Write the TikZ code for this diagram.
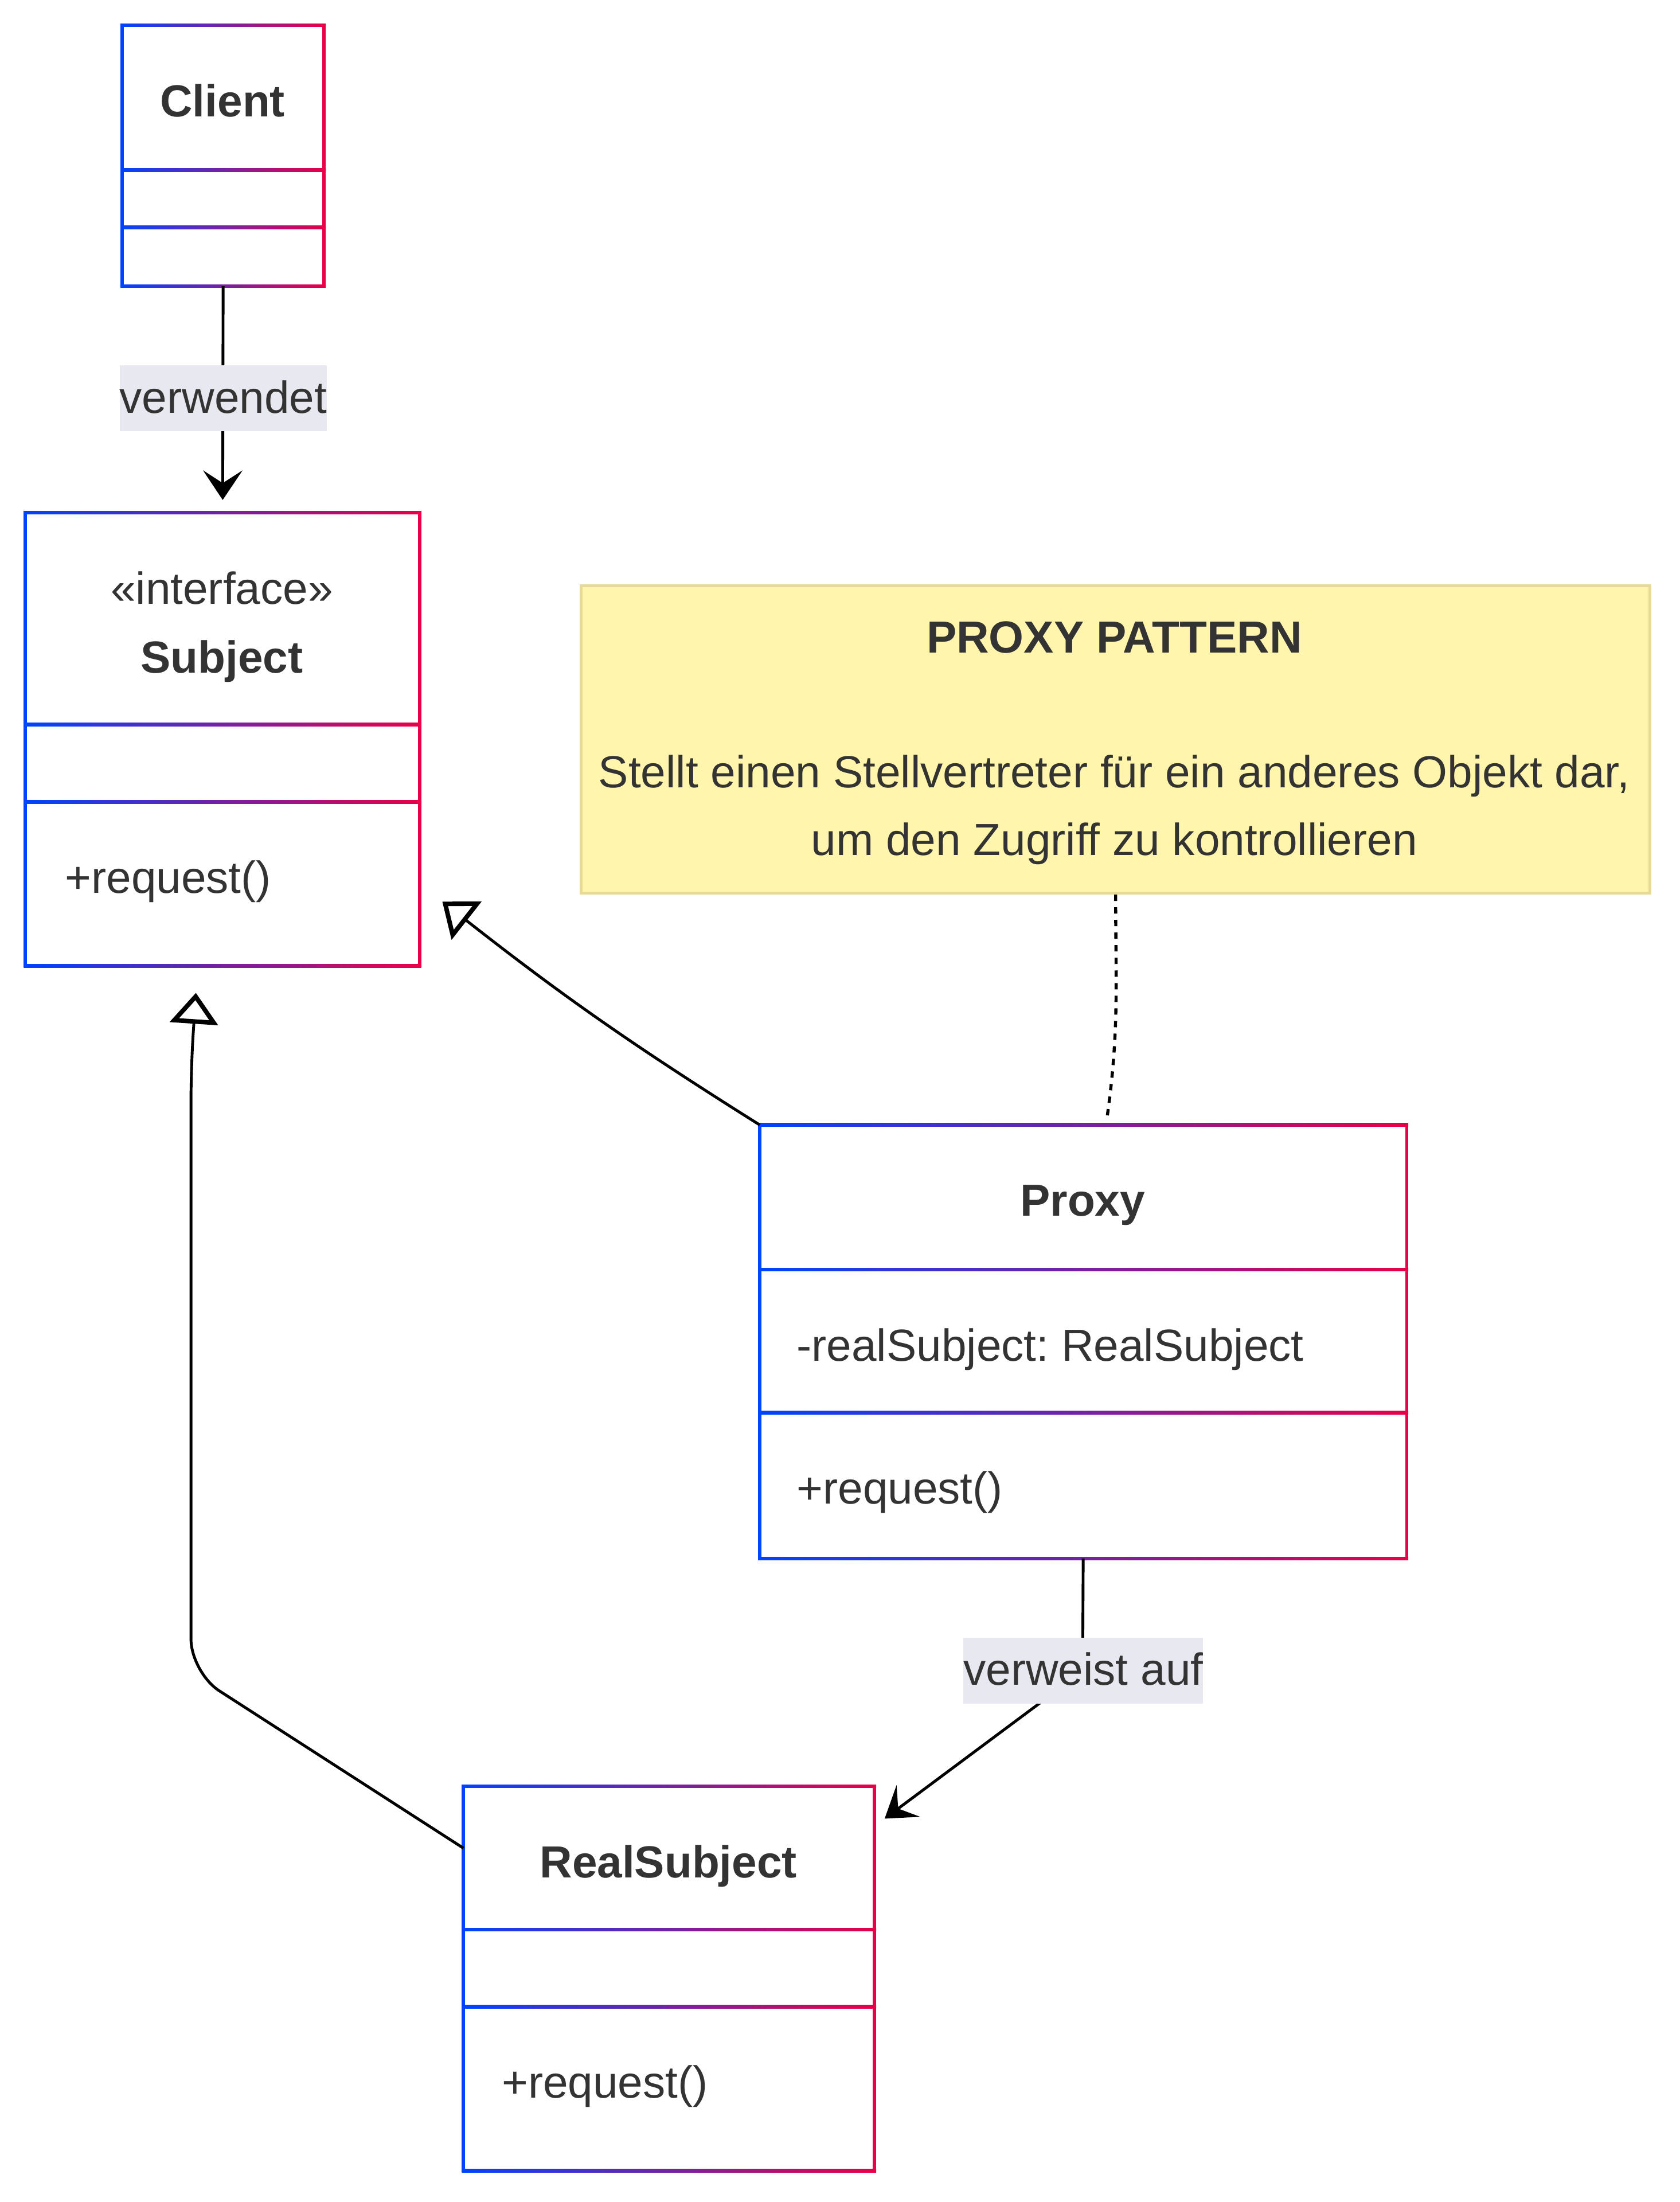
\documentclass[tikz,border=0pt]{standalone}
\usepackage{fontspec}
\setmainfont{Liberation Sans}
\usetikzlibrary{arrows.meta}

\definecolor{umlblue}{RGB}{0,68,255}
\definecolor{umlred}{RGB}{234,0,72}
\definecolor{inktext}{HTML}{333333}
\definecolor{labelbg}{HTML}{E8E8F0}
\definecolor{notefill}{HTML}{FFF5AD}
\definecolor{notedraw}{HTML}{E6DA96}

% half width of the class frame lines
\newcommand{\bw}{0.575pt}
% gradient frame round a class node, #2 = divider offsets from the top (pt)
\newcommand{\classframe}[2]{%
    \foreach \dy in {0,#2} {
        \shade[gradbar] ([shift={(-\bw,-\dy*1pt+\bw)}]#1.north west)
            rectangle ([shift={(\bw,-\dy*1pt-\bw)}]#1.north east);
    }
    \shade[gradbar] ([shift={(-\bw,\bw)}]#1.south west) rectangle ([shift={(\bw,-\bw)}]#1.south east);
    \fill[umlblue] ([shift={(-\bw,\bw)}]#1.north west) rectangle ([shift={(\bw,-\bw)}]#1.south west);
    \fill[umlred] ([shift={(-\bw,\bw)}]#1.north east) rectangle ([shift={(\bw,-\bw)}]#1.south east);
}

\begin{document}
\frenchspacing
\begin{tikzpicture}[x=0.5pt, y=-0.5pt,
        classbox/.style={fill=white, inner sep=0pt, anchor=north west},
        notebox/.style={fill=notefill, draw=notedraw, line width=1pt, inner sep=0pt, anchor=north west},
        gradbar/.style={left color=umlblue, right color=umlred},
        txt/.style={font=\fontsize{16}{24}\selectfont, text=inktext, inner sep=0pt},
        classname/.style={txt, font=\fontsize{16}{24}\selectfont\bfseries, anchor=base},
        member/.style={txt, anchor=base west},
        edgelabel/.style={txt, fill=labelbg, text height=17pt, text depth=6.5pt, anchor=base},
        assoc/.style={line width=1pt, -{Stealth[length=10.5pt, width=14pt, inset=4.5pt]}},
        realize/.style={line width=1pt, -{Triangle[open, fill=white, length=11pt, width=17pt, line width=1.6pt]}},
        notelink/.style={line width=1.1pt, dash pattern=on 2.25pt off 2.25pt}]

        \fill[white] (0,0) rectangle (1196,1568);
        \useasboundingbox (0,0) rectangle (1196,1568);

        % -- class boxes ---------------------------------------------------------
        \node[classbox, minimum width=71.5pt, minimum height=92.5pt] (client) at (87,18) {};
        \node[classbox, minimum width=140pt, minimum height=161pt] (subject) at (18,365) {};
        \node[classbox, minimum width=230pt, minimum height=154pt] (proxy) at (541,801) {};
        \node[classbox, minimum width=146pt, minimum height=136.5pt] (realsub) at (330,1272) {};

        \classframe{client}{51.5,72}
        \classframe{subject}{75.5,103}
        \classframe{proxy}{51.5,102.5}
        \classframe{realsub}{51,78.5}

        % -- class texts ---------------------------------------------------------
        \node[classname] (clientname) at (158.5,83) {Client};

        \node[txt, anchor=base] (subjstereo) at (158,430) {«interface»};
        \node[classname] (subjname) at (158,479) {Subject};
        \node[member] (subjop) at (46,636) {+request()};

        \node[classname] (proxyname) at (771,866) {Proxy};
        \node[member] (proxyattr) at (567,969) {-realSubject: RealSubject};
        \node[member] (proxyop) at (567,1071) {+request()};

        \node[classname] (realname) at (476,1337) {RealSubject};
        \node[member] (realop) at (357,1494) {+request()};

        % -- note ----------------------------------------------------------------
        \node[notebox, minimum width=380.5pt, minimum height=109.5pt] (note) at (413,416) {};
        \node[classname] (notetitle) at (793.5,465) {PROXY PATTERN};
        \node[txt, anchor=base] (noteline1) at (793.5,561) {Stellt einen Stellvertreter für ein anderes Objekt dar,};
        \node[txt, anchor=base] (noteline2) at (793.5,609) {um den Zugriff zu kontrollieren};

        \coordinate (noteend) at (788.5,795);
        \draw[notelink] (note.south) to[out=-90, in=82] (noteend);

        % -- Client uses Subject -------------------------------------------------
        \coordinate (usestip) at (158.6,356);
        \draw[assoc] (client.south) -- (usestip);
        \node[edgelabel] (useslabel) at (159,294) {verwendet};

        % -- Proxy realizes Subject ----------------------------------------------
        \coordinate (proxytip) at (315,642);
        \draw[realize] (proxy.north west) to[bend left=3] (proxytip);

        % -- RealSubject realizes Subject ----------------------------------------
        \coordinate (realout) at (330,1316);
        \coordinate (realbend) at (136,1191);
        \coordinate (realup) at (136,760);
        \coordinate (realtip) at (139.5,707);
        \draw[realize, rounded corners=12pt] (realout) -- (realbend) -- (realup) -- (realtip);

        % -- Proxy refers to RealSubject -----------------------------------------
        \coordinate (refbend) at (771,1190);
        \coordinate (reftip) at (630,1295);
        \draw[assoc] (proxy.south) -- (refbend) -- (reftip);
        \node[edgelabel] (reflabel) at (771.5,1200) {verweist auf};
    \end{tikzpicture}
\end{document}
